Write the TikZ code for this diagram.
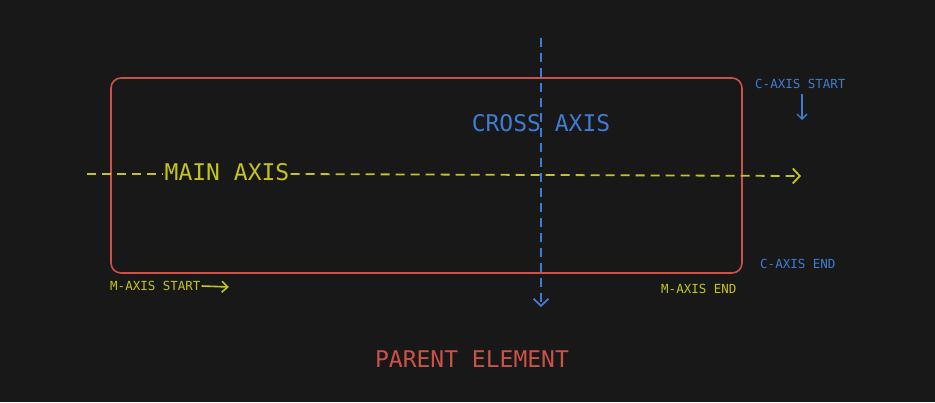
\documentclass[tikz,border=0pt]{standalone}
\usepackage{fontspec}
\setmonofont{DejaVu Sans Mono}
\usetikzlibrary{arrows.meta,positioning}

\definecolor{bgdark}{RGB}{24,24,24}
\definecolor{axisyellow}{RGB}{196,196,30}
\definecolor{axisblue}{RGB}{62,124,212}
\definecolor{parentred}{RGB}{204,82,72}

\begin{document}
\begin{tikzpicture}[
    x=1pt, y=-1pt,
    every node/.style={font=\ttfamily, inner sep=1pt},
    biglabel/.style={font=\ttfamily\fontsize{23}{23}\selectfont},
    smalllabel/.style={font=\ttfamily\fontsize{12.5}{12.5}\selectfont},
    axisline/.style={line width=1.8pt, dash pattern=on 9pt off 6pt},
    tip/.style={-{Straight Barb[length=7pt,width=15pt,line width=1.8pt]}},
  ]
    % Фон
    \fill[bgdark] (0,0) rectangle (935,402);
    \useasboundingbox (0,0) rectangle (935,402);

    % Родительский элемент
    \draw[parentred, line width=1.6pt, rounded corners=10pt] (111,78) rectangle (742,273);
    \node[biglabel, text=parentred] (parent) at (472,359) {PARENT ELEMENT};

    % Поперечная ось
    \coordinate (ctop) at (541,38);
    \coordinate (cbot) at (541,307);
    \draw[axisline, tip, axisblue] (ctop) -- (cbot);
    \node[biglabel, text=axisblue] (crosstxt) at (541,123) {CROSS AXIS};

    % Главная ось
    \coordinate (mstart) at (87,174);
    \coordinate (mend) at (801,176);
    \node[biglabel, text=axisyellow] (maintxt) at (227,172) {MAIN AXIS};
    \draw[axisline, axisyellow] (mstart) -- (maintxt.west |- mstart);
    \draw[axisline, tip, axisyellow] (maintxt.east |- mstart) -- (mend);

    % Подписи начала и конца
    \node[smalllabel, text=axisyellow, anchor=west] (mstarttxt) at (109,286) {M-AXIS START};
    \coordinate (mstartend) at (229,287);
    \draw[axisyellow, line width=1.6pt, -{Straight Barb[length=6pt,width=11pt,line width=1.6pt]}] (mstarttxt.east) -- (mstartend);
    \node[smalllabel, text=axisyellow, anchor=west] (mendtxt) at (660,289) {M-AXIS END};

    \node[smalllabel, text=axisblue, anchor=west] (cstarttxt) at (754,84) {C-AXIS START};
    \coordinate (cstartend) at (802,120);
    \draw[axisblue, line width=1.4pt, -{Straight Barb[length=5pt,width=10pt,line width=1.4pt]}] (802,94) -- (cstartend);
    \node[smalllabel, text=axisblue, anchor=west] (cendtxt) at (759,264) {C-AXIS END};
  \end{tikzpicture}
\end{document}
